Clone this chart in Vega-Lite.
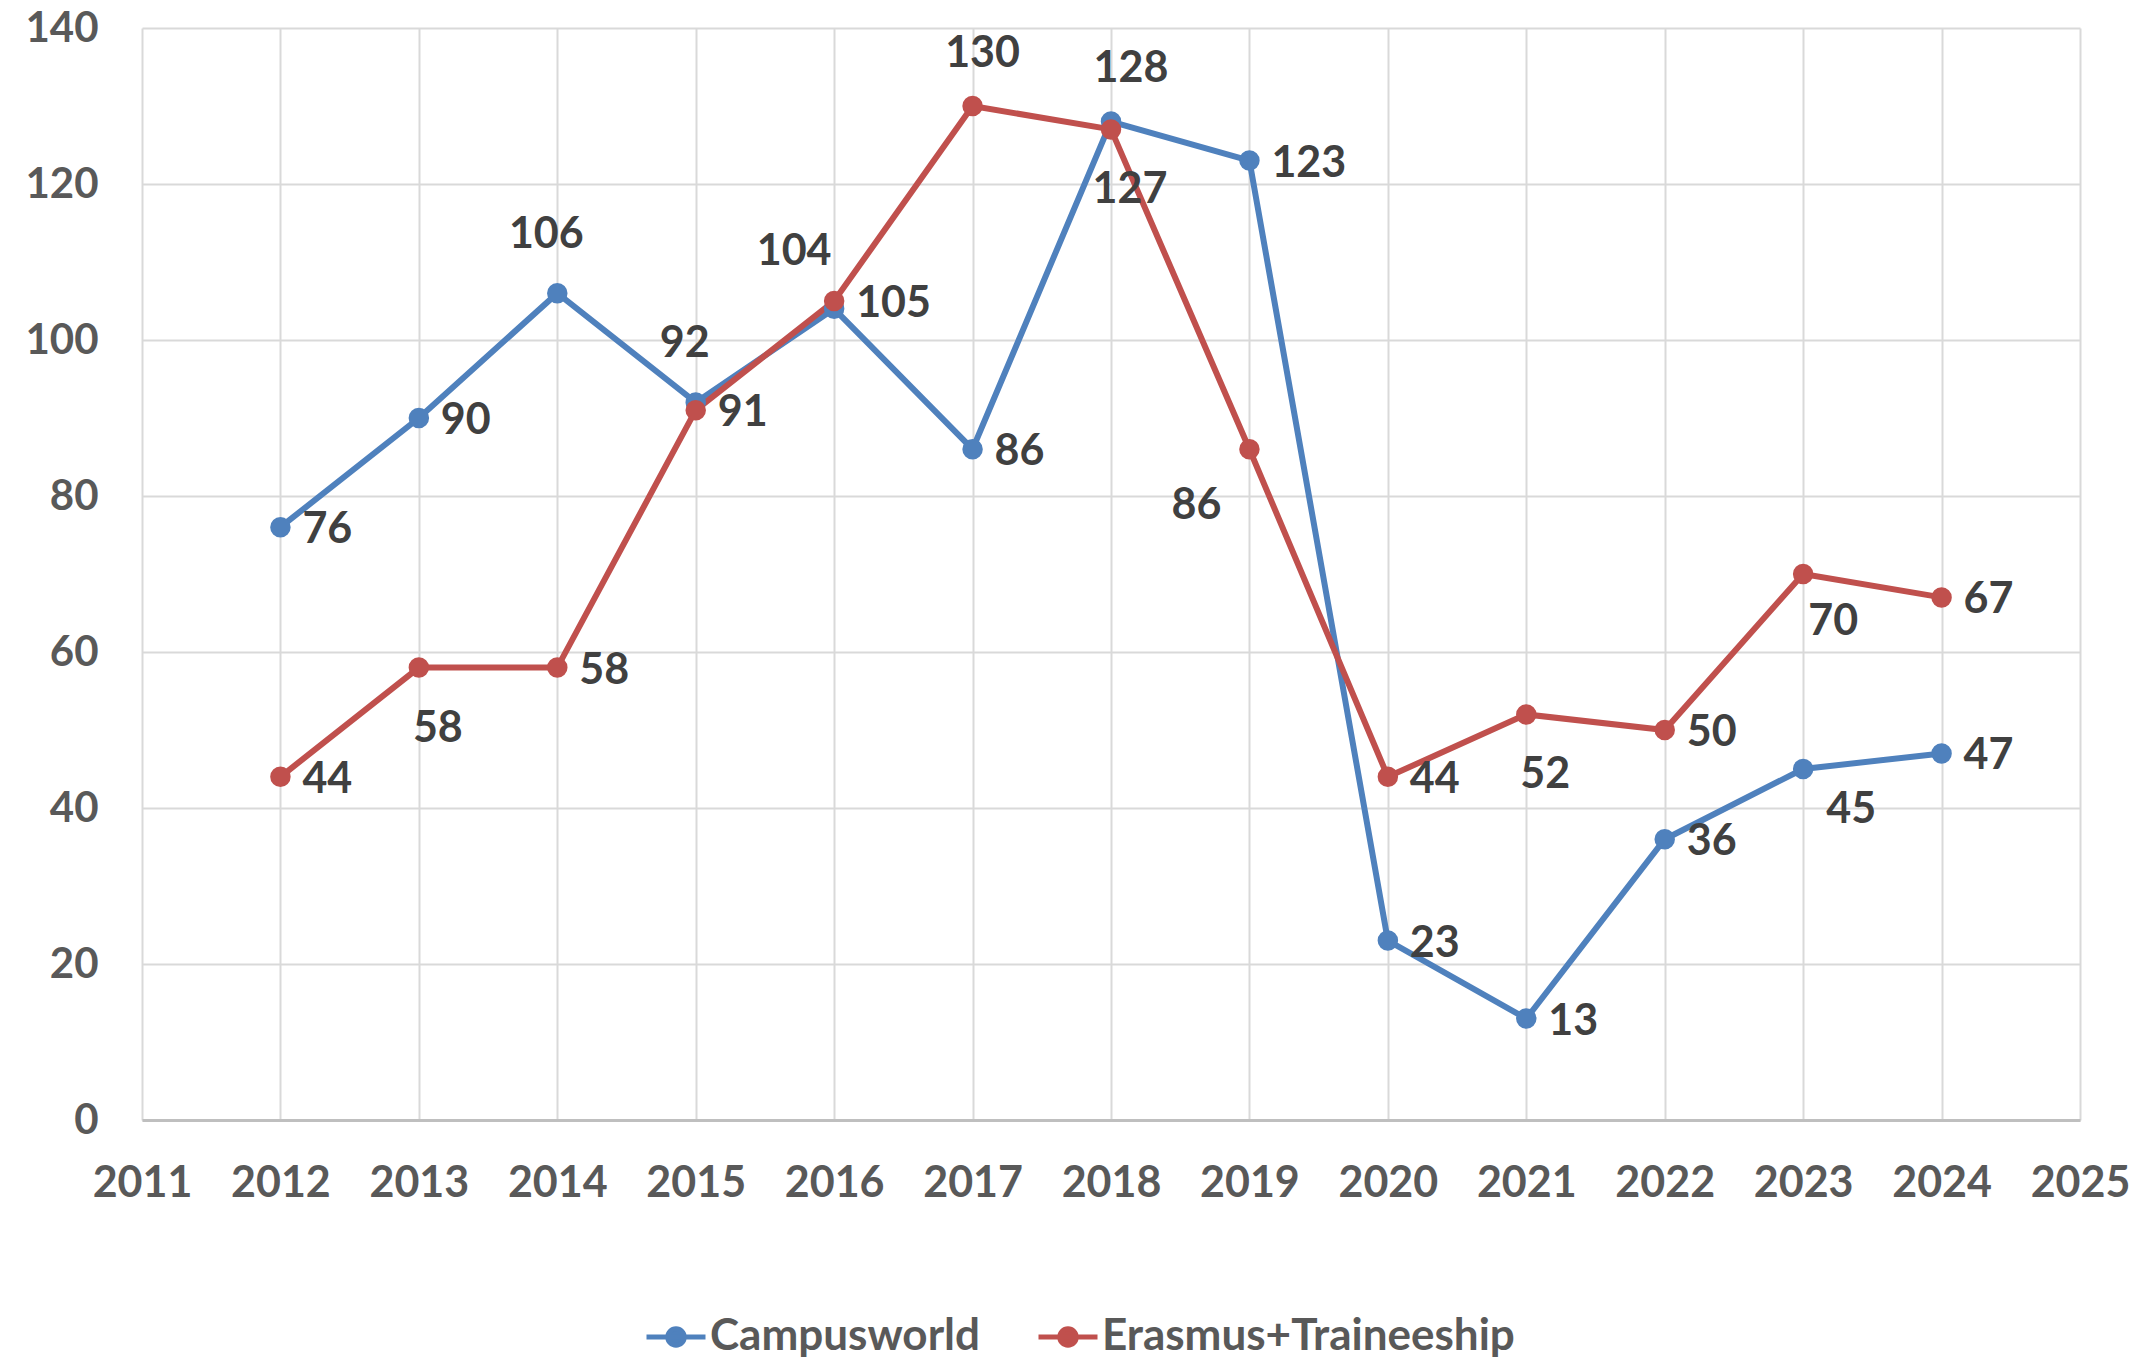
{
  "$schema": "https://vega.github.io/schema/vega-lite/v6.json",
  "width": 1938,
  "height": 1092,
  "autosize": {"type": "none"},
  "padding": {"left": 142, "top": 28, "right": 52, "bottom": 242},
  "background": "white",
  "config": {
    "view": {"stroke": null},
    "font": "Lato"
  },
  "data": {
    "values": [
      {"series": "Campusworld", "year": 2012, "value": 76},
      {"series": "Campusworld", "year": 2013, "value": 90},
      {"series": "Campusworld", "year": 2014, "value": 106},
      {"series": "Campusworld", "year": 2015, "value": 92},
      {"series": "Campusworld", "year": 2016, "value": 104},
      {"series": "Campusworld", "year": 2017, "value": 86},
      {"series": "Campusworld", "year": 2018, "value": 128},
      {"series": "Campusworld", "year": 2019, "value": 123},
      {"series": "Campusworld", "year": 2020, "value": 23},
      {"series": "Campusworld", "year": 2021, "value": 13},
      {"series": "Campusworld", "year": 2022, "value": 36},
      {"series": "Campusworld", "year": 2023, "value": 45},
      {"series": "Campusworld", "year": 2024, "value": 47},
      {"series": "Erasmus+Traineeship", "year": 2012, "value": 44},
      {"series": "Erasmus+Traineeship", "year": 2013, "value": 58},
      {"series": "Erasmus+Traineeship", "year": 2014, "value": 58},
      {"series": "Erasmus+Traineeship", "year": 2015, "value": 91},
      {"series": "Erasmus+Traineeship", "year": 2016, "value": 105},
      {"series": "Erasmus+Traineeship", "year": 2017, "value": 130},
      {"series": "Erasmus+Traineeship", "year": 2018, "value": 127},
      {"series": "Erasmus+Traineeship", "year": 2019, "value": 86},
      {"series": "Erasmus+Traineeship", "year": 2020, "value": 44},
      {"series": "Erasmus+Traineeship", "year": 2021, "value": 52},
      {"series": "Erasmus+Traineeship", "year": 2022, "value": 50},
      {"series": "Erasmus+Traineeship", "year": 2023, "value": 70},
      {"series": "Erasmus+Traineeship", "year": 2024, "value": 67}
    ]
  },
  "encoding": {
    "x": {
      "field": "year", "type": "quantitative",
      "scale": {"domain": [2011, 2025], "nice": false, "zero": false},
      "axis": {
        "title": null, "values": [2011,2012,2013,2014,2015,2016,2017,2018,2019,2020,2021,2022,2023,2024,2025],
        "format": "d", "ticks": false, "labelPadding": 42,
        "labelFont": "Lato", "labelFontSize": 43, "labelFontWeight": "bold", "labelColor": "#595959",
        "labelOverlap": false, "labelFlush": false,
        "grid": true, "gridColor": "#d9d9d9", "gridWidth": 2,
        "domain": true, "domainColor": "#bfbfbf", "domainWidth": 3
      }
    },
    "y": {
      "field": "value", "type": "quantitative",
      "scale": {"domain": [0, 140], "nice": false},
      "axis": {
        "title": null, "values": [0,20,40,60,80,100,120,140],
        "ticks": false, "labelPadding": 44,
        "labelFont": "Lato", "labelFontSize": 42, "labelFontWeight": "bold", "labelColor": "#595959",
        "grid": true, "gridColor": "#d9d9d9", "gridWidth": 2,
        "domain": false
      }
    },
    "color": {
      "field": "series", "type": "nominal",
      "scale": {"domain": ["Campusworld", "Erasmus+Traineeship"], "range": ["#4F81BD", "#C0504D"]},
      "legend": {
        "title": null, "orient": "none", "direction": "horizontal",
        "legendX": 502, "legendY": 1277,
        "symbolType": "M-1,0L1,0M0.28,0A0.28,0.28,0,1,1,-0.28,0A0.28,0.28,0,1,1,0.28,0Z",
        "symbolSize": 3481, "symbolStrokeWidth": 5,
        "labelFont": "Lato", "labelFontSize": 44, "labelFontWeight": "bold", "labelColor": "#595959",
        "labelLimit": 0,
        "labelOffset": 2, "columnPadding": 48
      }
    }
  },
  "layer": [
    {"mark": {"type": "line", "strokeWidth": 6}},
    {"mark": {"type": "point", "filled": true, "opacity": 1, "size": 420}},
    {
      "transform": [{"filter": "!((datum.series=='Campusworld' && indexof([2014,2015,2016,2018,2023], datum.year)>=0) || (datum.series=='Erasmus+Traineeship' && indexof([2013,2017,2018,2019,2021,2023], datum.year)>=0))"}],
      "mark": {"type": "text", "align": "left", "baseline": "middle", "dx": 22, "dy": 3, "fontSize": 43, "fontWeight": "bold", "font": "Lato"},
      "encoding": {"text": {"field": "value", "type": "quantitative"}, "color": {"value": "#404040"}}
    },
    {
      "transform": [{"filter": "datum.series=='Campusworld' && (datum.year==2014 || datum.year==2015)"}],
      "mark": {"type": "text", "align": "center", "baseline": "middle", "dx": -11, "dy": -58, "fontSize": 43, "fontWeight": "bold", "font": "Lato"},
      "encoding": {"text": {"field": "value", "type": "quantitative"}, "color": {"value": "#404040"}}
    },
    {
      "transform": [{"filter": "datum.series=='Campusworld' && datum.year==2016"}],
      "mark": {"type": "text", "align": "center", "baseline": "middle", "dx": -40, "dy": -57, "fontSize": 43, "fontWeight": "bold", "font": "Lato"},
      "encoding": {"text": {"field": "value", "type": "quantitative"}, "color": {"value": "#404040"}}
    },
    {
      "transform": [{"filter": "datum.series=='Campusworld' && datum.year==2018"}],
      "mark": {"type": "text", "align": "center", "baseline": "middle", "dx": 20, "dy": -53, "fontSize": 43, "fontWeight": "bold", "font": "Lato"},
      "encoding": {"text": {"field": "value", "type": "quantitative"}, "color": {"value": "#404040"}}
    },
    {
      "transform": [{"filter": "datum.series=='Campusworld' && datum.year==2023"}],
      "mark": {"type": "text", "align": "center", "baseline": "middle", "dx": 48, "dy": 41, "fontSize": 43, "fontWeight": "bold", "font": "Lato"},
      "encoding": {"text": {"field": "value", "type": "quantitative"}, "color": {"value": "#404040"}}
    },
    {
      "transform": [{"filter": "datum.series=='Erasmus+Traineeship' && (datum.year==2013 || datum.year==2018 || datum.year==2021)"}],
      "mark": {"type": "text", "align": "center", "baseline": "middle", "dx": 19, "dy": 61, "fontSize": 43, "fontWeight": "bold", "font": "Lato"},
      "encoding": {"text": {"field": "value", "type": "quantitative"}, "color": {"value": "#404040"}}
    },
    {
      "transform": [{"filter": "datum.series=='Erasmus+Traineeship' && datum.year==2017"}],
      "mark": {"type": "text", "align": "center", "baseline": "middle", "dx": 10, "dy": -52, "fontSize": 43, "fontWeight": "bold", "font": "Lato"},
      "encoding": {"text": {"field": "value", "type": "quantitative"}, "color": {"value": "#404040"}}
    },
    {
      "transform": [{"filter": "datum.series=='Erasmus+Traineeship' && datum.year==2019"}],
      "mark": {"type": "text", "align": "center", "baseline": "middle", "dx": -53, "dy": 57, "fontSize": 43, "fontWeight": "bold", "font": "Lato"},
      "encoding": {"text": {"field": "value", "type": "quantitative"}, "color": {"value": "#404040"}}
    },
    {
      "transform": [{"filter": "datum.series=='Erasmus+Traineeship' && datum.year==2023"}],
      "mark": {"type": "text", "align": "center", "baseline": "middle", "dx": 30, "dy": 48, "fontSize": 43, "fontWeight": "bold", "font": "Lato"},
      "encoding": {"text": {"field": "value", "type": "quantitative"}, "color": {"value": "#404040"}}
    }
  ]
}
